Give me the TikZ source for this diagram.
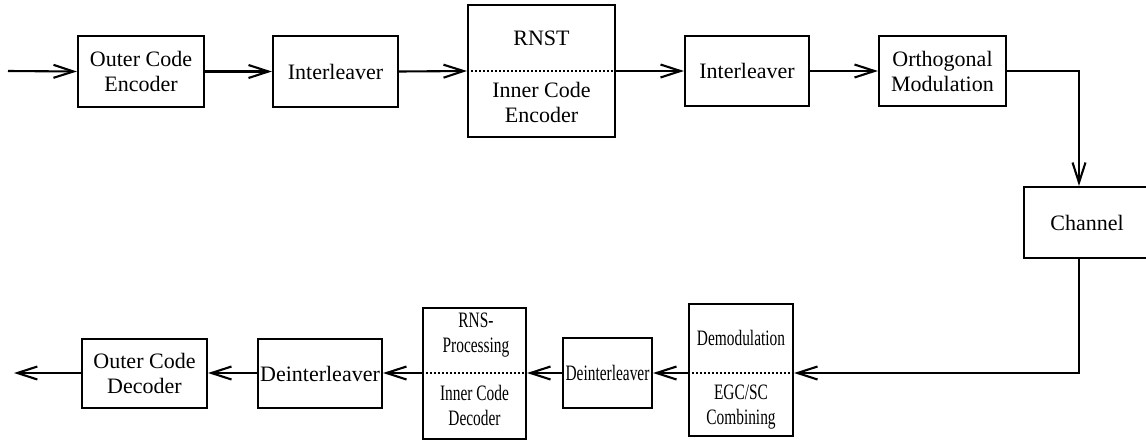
\documentclass[tikz,border=0pt]{standalone}
\usepackage{fontspec}
\setmainfont{Liberation Serif}
\usetikzlibrary{arrows.meta,calc}
\newcommand\squeezed[1]{\scalebox{0.7}[1]{#1}}
\begin{document}
\begin{tikzpicture}[x=0.5pt,y=-0.5pt,
  blk/.style={draw, line width=1.1pt, inner sep=0pt, align=center,
    font=\fontsize{11}{12.5}\selectfont},
  lbl/.style={inner sep=0pt, align=center, font=\fontsize{11}{12.5}\selectfont},
  flow/.style={line width=1.05pt, -{Straight Barb[length=10pt,width=6.5pt,line width=1.05pt]}},
  sep/.style={line width=0.9pt, dash pattern=on 0.8pt off 1.2pt}]
\useasboundingbox (0,0) rectangle (1146,440);

% reference points for the free ends and the routing
\coordinate (in) at (8,71);
\coordinate (out) at (14,373);
\coordinate (tx) at (1079,0);
\coordinate (rowB) at (0,373);

% transmitter chain
\node[blk, minimum width=63pt, minimum height=35.5pt] (oce) at (141,71.5) {Outer Code\\Encoder};
\node[blk, minimum width=62.5pt, minimum height=35.5pt] (il1) at (335.5,71.5) {Interleaver};
\node[blk, minimum width=73.5pt, minimum height=66pt] (rnst) at (541.5,71) {};
\node[lbl] (rnstA) at (541.5,38) {RNST};
\node[lbl] (rnstB) at (541.5,102) {Inner Code\\Encoder};
\draw[sep] (rnst.west) -- (rnst.east);
\node[blk, minimum width=62pt, minimum height=35pt] (il2) at (747,71) {Interleaver};
\node[blk, minimum width=63.5pt, minimum height=35pt] (om) at (942.5,71) {Orthogonal\\Modulation};

% channel
\node[blk, minimum width=63pt, minimum height=35.5pt] (ch) at (1087,222.5) {Channel};

% receiver chain
\node[blk, minimum width=52pt, minimum height=66pt] (dem) at (741,370) {};
\node[lbl] (demA) at (741,338) {\squeezed{Demodulation}};
\node[lbl] (demB) at (741,407) {\squeezed{EGC/SC}\\\squeezed{Combining}};
\draw[sep] (dem.west |- rowB) -- (dem.east |- rowB);
\node[blk, minimum width=44.5pt, minimum height=35pt] (dil2) at (607.5,373) {\squeezed{Deinterleaver}};
\node[blk, minimum width=51.5pt, minimum height=65.5pt] (rns) at (474.5,373.5) {};
\node[lbl] (rnsA) at (476,335) {\squeezed{RNS-}\\\squeezed{Processing}};
\node[lbl] (rnsB) at (474.5,405) {\squeezed{Inner Code}\\\squeezed{Decoder}};
\draw[sep] (rns.west |- rowB) -- (rns.east |- rowB);
\node[blk, minimum width=62pt, minimum height=34.5pt] (dil1) at (320,373.5) {Deinterleaver};
\node[blk, minimum width=62.5pt, minimum height=34.5pt] (ocd) at (144.5,373.5) {Outer Code\\Decoder};

% connectors
\draw[flow] (in) -- (oce.west);
\draw[flow] (oce.east) -- (il1.west);
\draw[flow] (il1.east) -- (rnst.west);
\draw[flow] (rnst.east) -- (il2.west);
\draw[flow] (il2.east) -- (om.west);
\draw[flow] (om.east) -| (tx |- ch.north);
\draw[flow] (tx |- ch.south) |- (dem.east |- rowB);
\draw[flow] (dem.west |- rowB) -- (dil2.east);
\draw[flow] (dil2.west) -- (rns.east |- rowB);
\draw[flow] (rns.west |- rowB) -- (dil1.east |- rowB);
\draw[flow] (dil1.west |- rowB) -- (ocd.east |- rowB);
\draw[flow] (ocd.west |- rowB) -- (out);
\end{tikzpicture}
\end{document}
